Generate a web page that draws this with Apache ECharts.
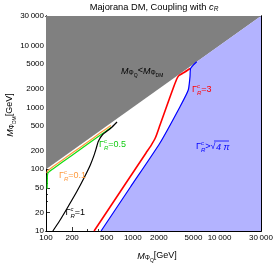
<!DOCTYPE html>
<html><head><meta charset="utf-8">
<script src="https://cdn.jsdelivr.net/npm/echarts@6/dist/echarts.min.js"></script>
<style>html,body{margin:0;padding:0;background:#fff}#c{width:274px;height:263px}</style>
</head><body><div id="c"></div>
<script>
// ---- data (masses in GeV) ----
const xTicks = [100, 200, 500, 1000, 2000, 5000, 10000, 30000];
const yTicks = [10, 20, 50, 100, 200, 500, 1000, 2000, 5000, 10000, 30000];
const xMinorTicks = [300, 400, 600, 700, 800, 900, 3000, 4000, 6000, 7000, 8000, 9000, 20000];
const yMinorTicks = [30, 40, 60, 70, 80, 90, 300, 400, 600, 700, 800, 900, 3000, 4000, 6000, 7000, 8000, 9000, 20000];
const massRange = [100, 30000];      // M_PhiQ range
const dmRange = [10, 30000];         // M_PhiDM range

const gamma01_Q  = [102, 104, 120, 200, 300, 420, 560];
const gamma01_DM = [86, 93, 109, 182, 273, 383, 510];
const gamma05_Q  = [103, 103.5, 104, 106, 120, 200, 300, 420, 560];
const gamma05_DM = [48, 62, 80, 88, 101, 168, 252, 353, 470];
const gamma1_Q   = [120, 143, 176, 225, 274, 324, 359, 380, 400, 445, 556, 658];
const gamma1_DM  = [10, 14.5, 23.6, 42.7, 72, 117, 170, 220, 280, 357, 458, 579];
const gamma3_Q   = [358, 792, 1420, 1620, 1826, 2058, 2350, 2683, 2984, 3231, 3406, 3890, 4560];
const gamma3_DM  = [10, 53.4, 183, 241, 325, 518, 873, 1470, 2213, 2927, 3273, 3660, 4250];
const pert_Q     = [431, 940, 2055, 3500, 4355, 4560, 4645, 5450];
const pert_DM    = [10, 51.5, 265, 1024, 1905, 3135, 4275, 5450];

// ---- helpers ----
const L = v => Math.log10(v);
const toPts = (q, dm) => q.map((v, i) => [L(v), L(dm[i])]);
const FONT = '"Liberation Sans", Arial, Helvetica, sans-serif';
const ctx2 = document.createElement('canvas').getContext('2d');
function tw(t, size, italic) { ctx2.font = (italic ? 'italic ' : '') + size + 'px ' + FONT; return ctx2.measureText(t).width; }
function fmt(v) { const n = Math.round(Math.pow(10, v)); return n >= 10000 ? String(n).replace(/(\d+)(\d{3})$/, '$1\u2009$2') : String(n); }

// parts: [text, size, dy, italic, advanceOverride]
function label(x, y, parts, color, anchor, rotation) {
  let cx = 0; const kids = [];
  parts.forEach(p => {
    kids.push({ type: 'text', x: cx, y: p[2], z: 100, style: { text: p[0], fontSize: p[1], fontFamily: FONT,
      fontStyle: p[3] ? 'italic' : 'normal', fill: color, align: 'left', verticalAlign: 'middle' } });
    cx += (p[4] !== undefined) ? p[4] : tw(p[0], p[1], p[3]);
  });
  const off = anchor === 'center' ? -cx / 2 : 0;
  kids.forEach(k => k.x += off);
  return { type: 'group', x: x, y: y, z: 100, rotation: rotation || 0, children: kids, silent: true };
}
const G = (rest) => [['\u0393', 9, 0, false], ['c', 6, -3.5, true, 0], ['R', 6, 3, true]].concat(rest);

function poly(points, color, z) {
  return { type: 'custom', xAxisIndex: 0, yAxisIndex: 0, z: z, silent: true, data: [0],
    renderItem: (params, api) => ({ type: 'polygon', shape: { points: points.map(p => api.coord(p)) },
      style: { fill: color, stroke: null } }) };
}
function curve(q, dm, color, w, z) {
  return { type: 'line', xAxisIndex: 0, yAxisIndex: 0, data: toPts(q, dm), showSymbol: false, symbol: 'none',
    smooth: 0.2, z: z, silent: true, lineStyle: { color: color, width: w }, animation: false };
}

const xMin = L(massRange[0]), xMax = L(massRange[1]);
const yMin = L(dmRange[0]), yMax = L(dmRange[1]);
const grayPts = [[massRange[0], massRange[0]], [massRange[1], massRange[1]], [massRange[0], dmRange[1]]].map(p => [L(p[0]), L(p[1])]);
const bluePts = toPts(pert_Q, pert_DM).concat([[xMax, xMax], [xMax, yMin]]);

function xAx(pos, vals, len, labels) {
  return { type: 'value', min: xMin, max: xMax, position: pos,
    axisLine: { show: true, onZero: false, lineStyle: { color: '#000', width: 1 } },
    axisTick: { show: true, inside: true, length: len, customValues: vals.map(L), lineStyle: { color: '#000', width: 0.8 } },
    axisLabel: labels ? { show: true, customValues: vals.map(L), formatter: fmt, fontSize: 8, fontFamily: FONT, color: '#000', margin: 3 } : { show: false },
    splitLine: { show: false } };
}
function yAx(pos, vals, len, labels) {
  return { type: 'value', min: yMin, max: yMax, position: pos,
    axisLine: { show: true, onZero: false, lineStyle: { color: '#000', width: 1 } },
    axisTick: { show: true, inside: true, length: len, customValues: vals.map(L), lineStyle: { color: '#000', width: 0.8 } },
    axisLabel: labels ? { show: true, customValues: vals.map(L), formatter: fmt, fontSize: 8, fontFamily: FONT, color: '#000', margin: 2 } : { show: false },
    splitLine: { show: false } };
}

const chart = echarts.init(document.getElementById('c'), null, { renderer: 'canvas' });
chart.setOption({
  animation: false,
  backgroundColor: '#fff',
  grid: { left: 46, right: 13, top: 16, bottom: 32, containLabel: false, outerBoundsMode: 'none' },
  xAxis: [xAx('bottom', xTicks, 4, true), xAx('bottom', xMinorTicks, 2, false), xAx('top', xTicks, 4, false), xAx('top', xMinorTicks, 2, false)],
  yAxis: [yAx('left', yTicks, 4, true), yAx('left', yMinorTicks, 2, false), yAx('right', yTicks, 4, false), yAx('right', yMinorTicks, 2, false)],
  series: [
    poly(grayPts, '#808080', 1),
    poly(bluePts, '#b3b3ff', 1),
    curve(gamma01_Q, gamma01_DM, '#ff9a3c', 1.2, 3),
    curve(gamma05_Q, gamma05_DM, '#11dd11', 1.2, 4),
    curve(gamma1_Q, gamma1_DM, '#000000', 1.2, 5),
    curve(gamma3_Q, gamma3_DM, '#ff0000', 1.6, 5),
    curve(pert_Q, pert_DM, '#0000ff', 1.2, 6)
  ],
  graphic: [
    label(154, 7, [['Majorana DM, Coupling with ', 9.3, 0, false], ['c', 9.3, 0, true], ['R', 6.5, 2.5, true]], '#000', 'center'),
    label(157, 256, [['M', 9, 0, true], ['\u03A6', 6.5, 2.5, false], ['Q', 5, 4.5, false], ['[GeV]', 9, 0, false]], '#000', 'center'),
    label(10, 115, [['M', 9, 0, true], ['\u03A6', 6.5, 2.5, false], ['DM', 5, 4.5, false], ['[GeV]', 9, 0, false]], '#000', 'center', Math.PI / 2),
    label(121, 71, [['M', 9, 0, true], ['\u03A6', 6.5, 2.5, false], ['Q', 5, 4.5, false, 4], ['<', 9, 0, false], ['M', 9, 0, true], ['\u03A6', 6.5, 2.5, false], ['DM', 5, 4.5, false]], '#000'),
    label(192, 90, G([['=3', 9, 0, false]]), '#ff0000'),
    label(196, 147, G([['>', 9, 0, false], ['\u221A', 9, 0, false, 5.5], ['4 \u03C0', 9, 0.5, true]]), '#0000ff'),
    { type: 'line', z: 100, shape: { x1: 214, y1: 141, x2: 229, y2: 141 }, style: { stroke: '#0000ff', lineWidth: 0.8 }, silent: true },
    label(99, 145, G([['=0.5', 9, 0, false]]), '#11cc11'),
    label(59, 176, G([['=0.1', 9, 0, false]]), '#ff9a3c'),
    label(65.5, 213, G([['=1', 9, 0, false]]), '#000')
  ]
});
</script></body></html>
